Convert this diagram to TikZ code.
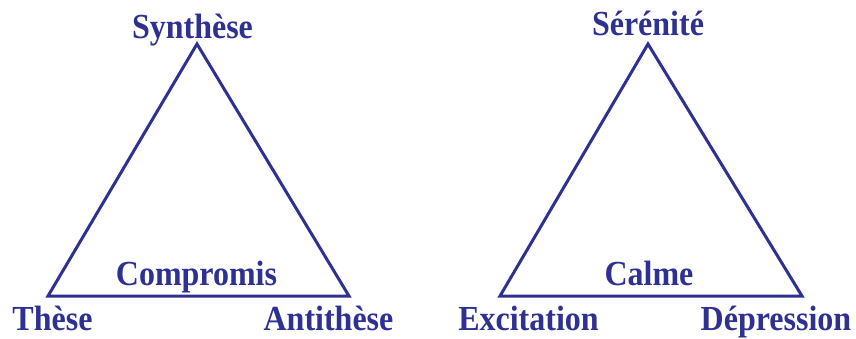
\documentclass[tikz,border=0pt]{standalone}
\usepackage{fontspec}
\setmainfont{Liberation Serif}
\definecolor{tblue}{RGB}{46,49,146}
\begin{document}
\begin{tikzpicture}[x=1pt,y=-1pt,
  tri/.style={draw=tblue,line width=3pt,line join=miter},
  lbl/.style={text=tblue,font=\fontsize{32}{32}\selectfont\bfseries,anchor=base,inner sep=0pt,yscale=1.1}]
\useasboundingbox (0,0) rectangle (856,338);
% left triangle
\coordinate (A) at (197,44);
\coordinate (B) at (48,296);
\coordinate (C) at (349,296);
\draw[tri] (A) -- (B) -- (C) -- cycle;
\node[lbl] (syn) at (192.5,38) {Synthèse};
\node[lbl] (comp) at (196.5,285) {Compromis};
\node[lbl] (these) at (52.5,330) {Thèse};
\node[lbl] (anti) at (328.5,330) {Antithèse};
% right triangle
\coordinate (D) at (648,44);
\coordinate (E) at (500,296);
\coordinate (F) at (802,296);
\draw[tri] (D) -- (E) -- (F) -- cycle;
\node[lbl] (ser) at (648,35) {Sérénité};
\node[lbl] (calme) at (649,285) {Calme};
\node[lbl] (exc) at (528.5,330) {Excitation};
\node[lbl] (dep) at (776,330) {Dépression};
\end{tikzpicture}
\end{document}
